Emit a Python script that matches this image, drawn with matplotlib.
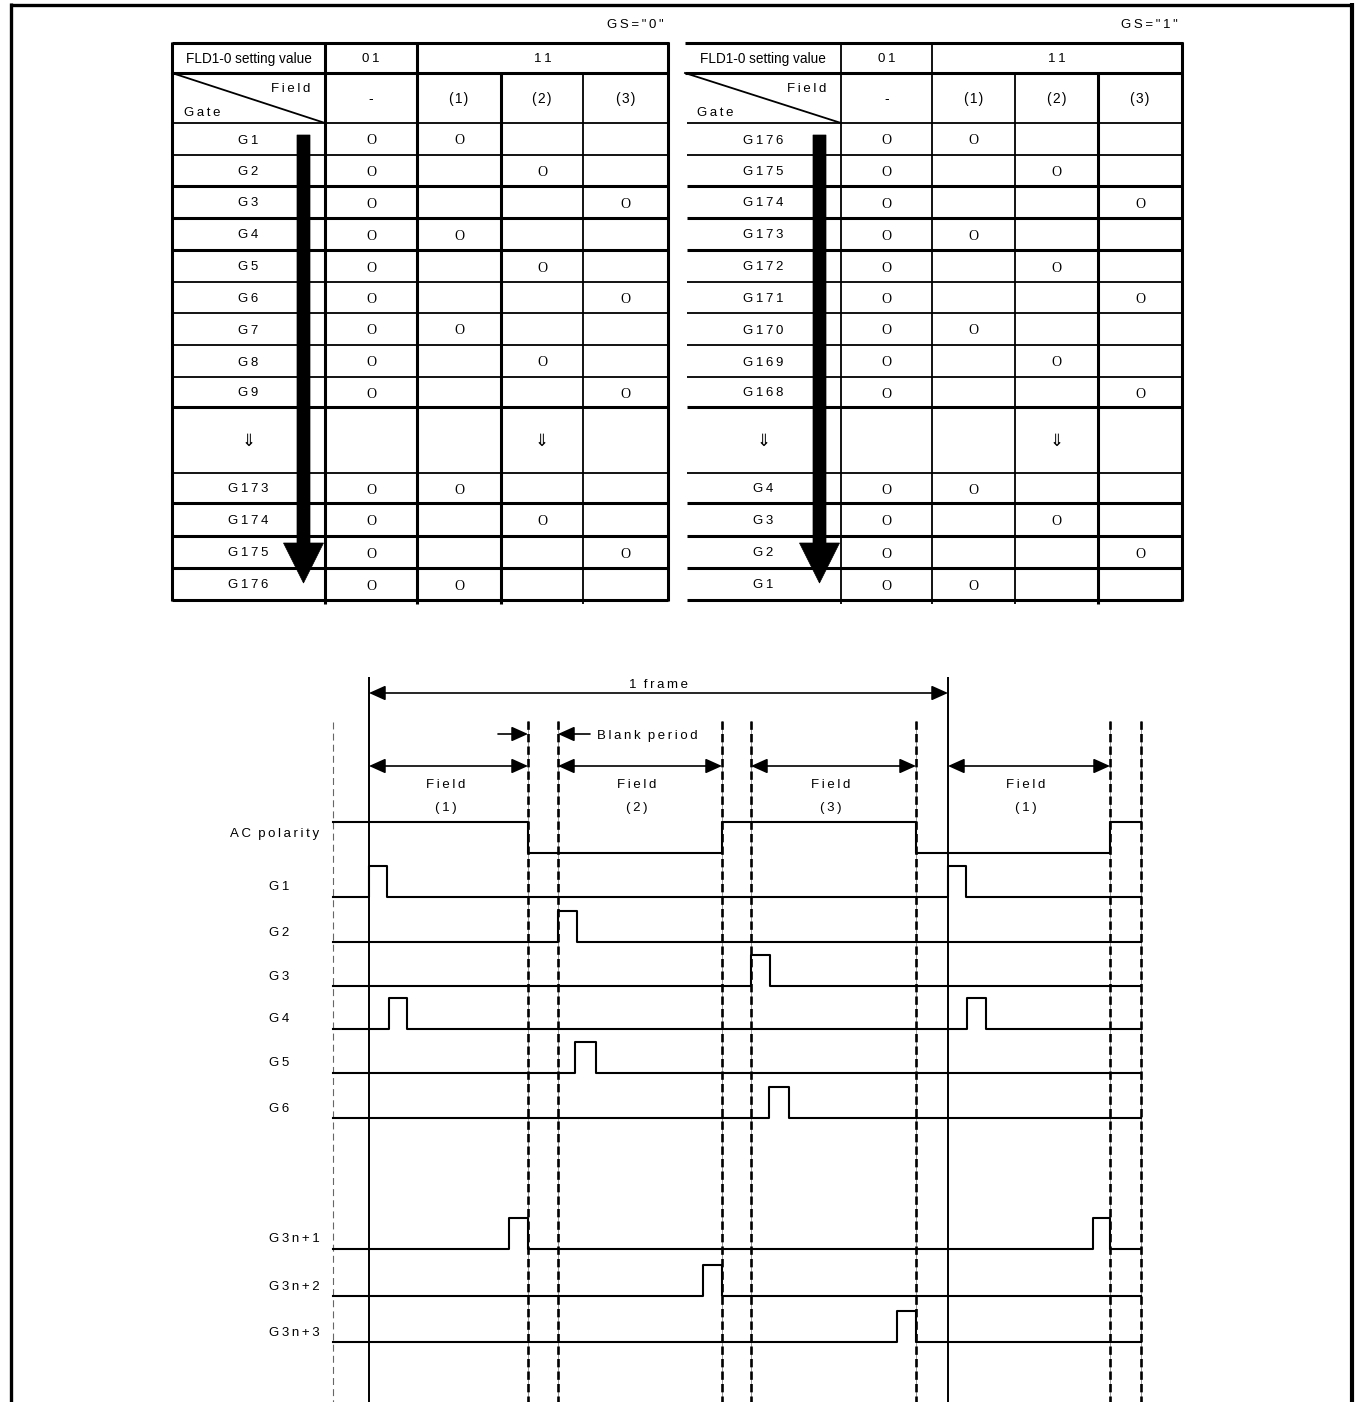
import matplotlib
matplotlib.use('Agg')
import matplotlib.pyplot as plt
from matplotlib.patches import Polygon, FancyArrowPatch, ArrowStyle

plt.rcParams['lines.scale_dashes'] = False
SANS = ['Liberation Sans', 'DejaVu Sans']
SERIF = ['Liberation Serif', 'DejaVu Serif']

# ---------------- data ----------------
gs_labels = ['GS="0"', 'GS="1"']
fld_header = 'FLD1-0 setting value'
fld_values = ['01', '11']
field_cols = ['-', '(1)', '(2)', '(3)']
gates_gs0 = ['G1', 'G2', 'G3', 'G4', 'G5', 'G6', 'G7', 'G8', 'G9', '⇓',
             'G173', 'G174', 'G175', 'G176']
gates_gs1 = ['G176', 'G175', 'G174', 'G173', 'G172', 'G171', 'G170', 'G169',
             'G168', '⇓', 'G4', 'G3', 'G2', 'G1']
# field in which each gate row is driven (0 = continuation row)
field_gs0 = [1, 2, 3, 1, 2, 3, 1, 2, 3, 0, 1, 2, 3, 1]
field_gs1 = [1, 2, 3, 1, 2, 3, 1, 2, 3, 0, 1, 2, 3, 1]
mark = 'O'
continuation = '⇓'

frame_label = '1 frame'
blank_label = 'Blank period'
field_word = 'Field'
field_labels = ['(1)', '(2)', '(3)', '(1)']
field_spans = [(369, 528), (558, 722), (751, 916), (948, 1110)]
frame_span = (369, 948)
blank_span = (528, 558)
signal_range = (333, 1141)
ac_label = 'AC polarity'
ac_edges = [528, 722, 916, 1110]
signal_names = ['G1', 'G2', 'G3', 'G4', 'G5', 'G6', 'G3n+1', 'G3n+2', 'G3n+3']
signal_pulses = [
    [(369, 387), (948, 966)],
    [(558, 577)],
    [(751, 770)],
    [(389, 407), (967, 986)],
    [(575, 596)],
    [(769, 789)],
    [(509, 528), (1093, 1110)],
    [(703, 722)],
    [(897, 916)],
]

# ---------------- layout / style ----------------
W, H = 1355, 1402
fig = plt.figure(figsize=(W / 100, H / 100), dpi=100)
ax = fig.add_axes([0, 0, 1, 1])
ax.set_xlim(0, W)
ax.set_ylim(H, 0)
ax.axis('off')

THICK, THIN = 2.2, 1.3
FS = 9.5
DY = 1.5


def ls(s):
    """letter-spaced text"""
    return '\u2009'.join(list(s)).replace('\u2009 \u2009', '  ')


def txt(x, y, s, ha='center', size=FS, family=SANS, va='center'):
    ax.text(x, y + DY, s, ha=ha, va=va, fontsize=size, family=family, color='black')


def hline(y, x0, x1, lw, **kw):
    ax.plot([x0, x1], [y, y], color='black', lw=lw, solid_capstyle='butt', **kw)


def vline(x, y0, y1, lw, **kw):
    ax.plot([x, x], [y0, y1], color='black', lw=lw, solid_capstyle='butt', **kw)


# outer frame
hline(4.5, 10, 1352, 2.4)
vline(10.5, 3, H, 2.4)
vline(1352, 3, H, 3.0)

# ---------------- tables ----------------
row_edges = [123, 155, 186, 218, 250, 282, 313, 345, 377, 407, 473, 503, 536, 568, 600]
row_lw = [THIN, THIN, THICK, THICK, THICK, THIN, THIN, THIN, THIN, THICK,
          THIN, THICK, THICK, THICK, THICK]
y_top, y_h1, y_h2 = 43, 73, 123


def draw_table(xe, col_lw, gates, fields, gs_label, arrow_x, left_border):
    x0, x5 = xe[0], xe[-1]
    hline(y_top, x0, x5 + 1, THICK)
    hline(y_h1, x0, x5, THICK)
    for y, lw in zip(row_edges, row_lw):
        hline(y, x0 + (0 if left_border else 2), x5, lw)
    if left_border:
        vline(x0, y_top - 1, 601, col_lw[0])
    vline(xe[1], y_top, 604, col_lw[1])
    vline(xe[2], y_top, 604, col_lw[2])
    vline(xe[3], y_h1, 604, col_lw[3])
    vline(xe[4], y_h1, 604, col_lw[4])
    vline(x5, y_top - 1, 601, col_lw[5])
    # diagonal header cell
    ax.plot([x0, xe[1]], [y_h1, y_h2], color='black', lw=1.3)
    # header texts
    txt(x5 - 4, 24, ls(gs_label), ha='right')
    txt((x0 + xe[1]) / 2, 58, fld_header, size=9.8)
    txt((xe[1] + xe[2]) / 2, 58, ls(fld_values[0]))
    txt((xe[2] + x5) / 2, 58, ls(fld_values[1]))
    txt(xe[1] - 15, 87, ls(field_word), ha='right')
    txt(x0 + 12, 111, ls('Gate'), ha='left')
    for i, c in enumerate(field_cols):
        txt((xe[i + 1] + xe[i + 2]) / 2, 98, c.replace('(', '(\u200a').replace(')', '\u200a)'),
            size=10)
    # body
    for r, (g, f) in enumerate(zip(gates, fields)):
        yc = (row_edges[r] + row_edges[r + 1]) / 2
        if f == 0:
            txt((x0 + xe[1]) / 2, yc, continuation, size=12)
            txt((xe[3] + xe[4]) / 2, yc, continuation, size=12)
            continue
        txt((x0 + xe[1]) / 2, yc, ls(g))
        txt((xe[1] + xe[2]) / 2, yc + 0.5, mark, family=SERIF, size=10)
        txt((xe[f + 1] + xe[f + 2]) / 2, yc + 0.5, mark, family=SERIF, size=10)
    # big scan-direction arrow
    sw, hw = 6.5, 20
    ax.add_patch(Polygon([(arrow_x - sw, 135), (arrow_x + sw, 135),
                          (arrow_x + sw, 543), (arrow_x + hw, 543),
                          (arrow_x, 583), (arrow_x - hw, 543),
                          (arrow_x - sw, 543)],
                         closed=True, facecolor='black', edgecolor='black', lw=0.5,
                         zorder=5))


draw_table([172, 325, 417, 501, 583, 668], [THICK, THICK, THICK, THICK, THIN, THICK],
           gates_gs0, field_gs0, gs_labels[0], 303.5, True)
draw_table([685, 841, 932, 1015, 1098, 1182], [THICK, THIN, THIN, THIN, THICK, THICK],
           gates_gs1, field_gs1, gs_labels[1], 819.5, False)

# ---------------- timing diagram ----------------
def darrow(xa, xb, y, style='<|-|>'):
    a = FancyArrowPatch((xa, y), (xb, y),
                        arrowstyle=ArrowStyle(style, head_length=1.0, head_width=0.45),
                        mutation_scale=10, lw=1.2, color='black',
                        shrinkA=0, shrinkB=0)
    ax.add_patch(a)


# vertical reference lines
vline(frame_span[0], 677, H, 1.4)
vline(frame_span[1], 677, H, 1.4)
ax.plot([signal_range[0]] * 2, [722, H], color='#666666', lw=0.8,
        dashes=(5, 3))
dashed_x = [s for span in field_spans for s in span if s not in frame_span] + [signal_range[1]]
for x in dashed_x:
    ax.plot([x, x], [721, H], color='#888888', lw=0.6)
    ax.plot([x, x], [721, H], color='black', lw=1.9, dashes=(6, 3))

# 1 frame
darrow(frame_span[0], frame_span[1], 693)
txt((frame_span[0] + frame_span[1]) / 2, 683, ls(frame_label))
# blank period
darrow(blank_span[0] - 30, blank_span[0], 734, '-|>')
darrow(blank_span[1] + 32, blank_span[1], 734, '-|>')
txt(blank_span[1] + 39, 734, ls(blank_label), ha='left')
# fields
for (a, b), lab in zip(field_spans, field_labels):
    darrow(a, b, 766)
    txt((a + b) / 2 - 3, 783, ls(field_word))
    txt((a + b) / 2 - 3, 807, ls(lab))

SIG_LW = 1.5
# AC polarity
ac_high, ac_low = 822, 853
xs, ys = [signal_range[0]], [ac_high]
level = ac_high
for e in ac_edges:
    xs += [e, e]
    ys += [level, ac_low if level == ac_high else ac_high]
    level = ys[-1]
xs.append(signal_range[1])
ys.append(level)
ax.plot(xs, ys, color='black', lw=SIG_LW)
txt(319, 833, ls(ac_label), ha='right')

# gate signals
baselines = [897, 942, 986, 1029, 1073, 1118, 1249, 1296, 1342]
pulse_h = 31
for name, pulses, yb in zip(signal_names, signal_pulses, baselines):
    xs, ys = [signal_range[0]], [yb]
    for a, b in pulses:
        xs += [a, a, b, b]
        ys += [yb, yb - pulse_h, yb - pulse_h, yb]
    xs.append(signal_range[1])
    ys.append(yb)
    ax.plot(xs, ys, color='black', lw=SIG_LW)
    txt(269, yb - 11, ls(name), ha='left')

fig.savefig('out.png', dpi=100)
